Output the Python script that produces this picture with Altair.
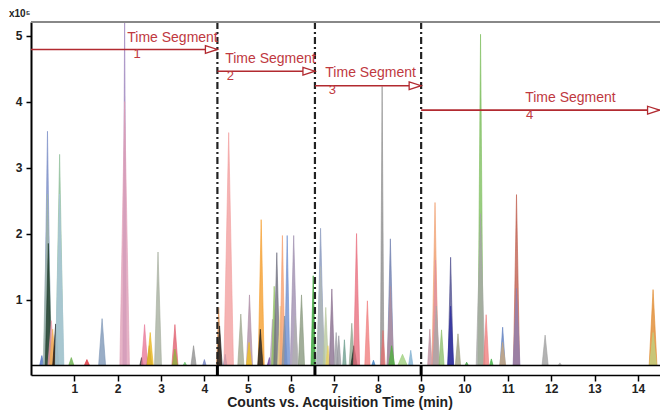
import altair as alt
import pandas as pd

# ---- data ----
peak_time = [0.25, 0.38, 0.38, 0.40, 0.47, 0.50, 0.57, 0.66, 0.66, 0.93, 1.29, 1.64, 2.16, 2.16, 2.55,
             2.62, 2.73, 2.75, 2.93, 3.32, 3.32, 3.55, 3.75, 4.00,
             4.33, 4.35, 4.48, 4.56, 4.84, 5.04, 5.03, 5.31, 5.29, 5.50, 5.57, 5.61, 5.67, 5.75, 5.80,
             5.85, 5.91, 6.06, 6.10, 6.24, 6.51,
             6.68, 6.68, 6.80, 6.85, 6.94, 7.04, 7.10, 7.23, 7.40, 7.45, 7.51, 7.76, 7.90, 8.10, 8.12,
             8.29, 8.29, 8.32, 8.57, 8.76,
             9.20, 9.32, 9.33, 9.35, 9.47, 9.68, 9.68, 9.85, 10.05, 10.37, 10.37, 10.50, 10.62, 10.88,
             10.88, 11.20, 11.20, 11.86, 12.20, 14.35, 14.35]
peak_height = [0.15, 3.55, 2.60, 1.85, 0.68, 0.55, 0.63, 3.20, 2.60, 0.12, 0.09, 0.71, 5.30, 4.00, 0.12,
               0.62, 0.30, 0.50, 1.72, 0.62, 0.25, 0.05, 0.30, 0.09,
               0.88, 0.60, 0.17, 3.53, 0.78, 1.07, 0.35, 2.21, 0.55, 0.12, 0.70, 1.20, 1.71, 0.90, 1.97,
               0.75, 1.97, 1.97, 0.75, 1.07, 1.36,
               2.08, 1.50, 0.88, 0.30, 1.16, 0.50, 0.45, 0.39, 0.64, 0.30, 2.00, 0.98, 0.08, 4.23, 0.53,
               1.92, 1.20, 0.30, 0.17, 0.23,
               0.55, 2.47, 1.60, 0.90, 0.54, 1.64, 0.90, 0.48, 0.05, 5.02, 2.30, 0.77, 0.10, 0.58,
               0.35, 2.59, 1.17, 0.46, 0.04, 1.15, 0.50]
peak_width = [0.05, 0.08, 0.10, 0.07, 0.08, 0.07, 0.07, 0.09, 0.10, 0.06, 0.06, 0.08, 0.04, 0.11, 0.04,
              0.07, 0.06, 0.07, 0.08, 0.07, 0.06, 0.04, 0.06, 0.04,
              0.05, 0.06, 0.04, 0.11, 0.07, 0.07, 0.06, 0.07, 0.06, 0.05, 0.06, 0.06, 0.07, 0.06, 0.06,
              0.06, 0.06, 0.08, 0.07, 0.07, 0.05,
              0.08, 0.10, 0.06, 0.05, 0.06, 0.05, 0.05, 0.04, 0.06, 0.07, 0.07, 0.06, 0.04, 0.04, 0.05,
              0.07, 0.08, 0.07, 0.11, 0.05,
              0.05, 0.07, 0.07, 0.08, 0.06, 0.06, 0.07, 0.06, 0.04, 0.06, 0.10, 0.06, 0.04, 0.06,
              0.07, 0.07, 0.08, 0.07, 0.04, 0.09, 0.08]
peak_color = ["#4d6fc4", "#7d8fc8", "#9fb5a8", "#1f3d2a", "#f0a0b0", "#f0b050", "#151515", "#8fbf9a",
              "#a9c6d8", "#6ab04c", "#e0303a", "#8098b8", "#a088c0", "#e0a0b8", "#333333",
              "#e87a9a", "#9a8a50", "#e8b820", "#a8b0a0", "#e06070", "#90b040", "#60c060", "#909090",
              "#7080c0",
              "#e09050", "#1a1a1a", "#3070c0", "#f2a0a0", "#a0a890", "#b090a8", "#f0c020", "#f5a030",
              "#202020", "#6a3da0", "#b8a0c0", "#90c060", "#707080", "#f0d890", "#f5a070",
              "#8090a0", "#7090d0", "#a090b0", "#b0b0b0", "#8a9a80", "#30a030",
              "#8a9ac0", "#b0b8b8", "#b8c8a0", "#e8d060", "#8a7090", "#a0a0a8", "#9898a0", "#70a090",
              "#90a890", "#1a2a20", "#e87080", "#f08080", "#4080c0", "#909090", "#e07070",
              "#7080b0", "#b090a0", "#50b040", "#a0d080", "#80b0d0",
              "#c090a0", "#f0a070", "#e090a0", "#a8a8a8", "#90c070", "#505090", "#3030a0", "#a0a080",
              "#40a040", "#80c060", "#a8a8a8", "#f08080", "#40b040", "#6080c0",
              "#c8a880", "#c06050", "#9080b0", "#a0a0a0", "#b0b0b0", "#e08a30", "#c0d080"]

segment_bounds = [4.30, 6.55, 9.00]
arrow_start = [0.0, 4.30, 6.55, 9.00]
arrow_end = [4.30, 6.55, 9.00, 14.50]
arrow_level = [4.79, 4.46, 4.24, 3.87]
segment_label = ["Time Segment"] * 4
segment_number = ["1", "2", "3", "4"]
label_x = [2.22, 4.48, 6.79, 11.40]
label_y = [4.96, 4.65, 4.43, 4.05]
number_x = [2.45, 4.60, 6.95, 11.50]
number_y = [4.72, 4.39, 4.17, 3.79]

x_ticks = list(range(1, 15))
y_ticks = [1, 2, 3, 4, 5]
X_DOM = [0.0, 14.51]
Y_DOM = [-0.144, 5.206]

FONT = "Liberation Sans, Arial, sans-serif"
RED = "#c0393f"

# build peak table (triangle vertices per peak)
rows = []
for i, (t, h, w, c) in enumerate(zip(peak_time, peak_height, peak_width, peak_color)):
    pid = f"p{i:03d}"
    for tt, yy in ((t - w, 0.0), (t, h), (t + w, 0.0)):
        rows.append({"pid": pid, "t": tt, "y": yy, "c": c})
peaks_df = pd.DataFrame(rows)

xs = alt.Scale(domain=X_DOM, nice=False, zero=False)
ys = alt.Scale(domain=Y_DOM, nice=False, zero=False)

x_axis = alt.Axis(values=x_ticks, format="d", title=None, grid=False, domainColor="black",
                  domainWidth=1.5, tickColor="black", tickSize=6, tickWidth=1.5,
                  labelFont=FONT, labelFontSize=12, labelFontWeight="bold", labelColor="#222",
                  labelPadding=2)
y_axis = alt.Axis(values=y_ticks, format="d", title=None, grid=False, domainColor="black",
                  domainWidth=2, tickColor="black", tickSize=5, tickWidth=1.5,
                  labelFont=FONT, labelFontSize=12, labelFontWeight="bold", labelColor="#222",
                  labelPadding=4)

peaks = alt.Chart(peaks_df).mark_area(clip=True, fillOpacity=0.8, strokeWidth=0.7, strokeOpacity=0.9).encode(
    x=alt.X("t:Q", scale=xs, axis=x_axis),
    y=alt.Y("y:Q", scale=ys, axis=y_axis, stack=None),
    detail="pid:N",
    color=alt.Color("c:N", scale=None),
    stroke=alt.Stroke("c:N", scale=None),
)

seg_df = pd.DataFrame({"t": segment_bounds, "ytop": [Y_DOM[1]] * 3, "ybot": [0.0] * 3,
                       "ystrip": [Y_DOM[0]] * 3})
seg_lines = alt.Chart(seg_df).mark_rule(color="#222", strokeWidth=2.2, strokeDash=[7, 3, 2, 3]).encode(
    x=alt.X("t:Q", scale=xs), y=alt.Y("ytop:Q", scale=ys), y2="ybot:Q")
seg_ticks = alt.Chart(seg_df).mark_rule(color="black", strokeWidth=3).encode(
    x=alt.X("t:Q", scale=xs), y=alt.Y("ystrip:Q", scale=ys), y2="ybot:Q")

base_df = pd.DataFrame({"y": [0.0]})
baseline = alt.Chart(base_df).mark_rule(color="black", strokeWidth=1.6).encode(
    y=alt.Y("y:Q", scale=ys))
top_line = alt.Chart(base_df).mark_rule(color="#888", strokeWidth=2).encode(
    y=alt.value(0))

arr_df = pd.DataFrame({"x0": arrow_start, "x1": arrow_end, "y": arrow_level})
arrows = alt.Chart(arr_df).mark_rule(color="#b22a30", strokeWidth=1.6).encode(
    x=alt.X("x0:Q", scale=xs), x2="x1:Q", y=alt.Y("y:Q", scale=ys))
heads = alt.Chart(arr_df).mark_point(shape="M-2,-0.65L0,0L-2,0.65Z", size=144, filled=True,
                                     fill="white", stroke="#b22a30", strokeWidth=1.3,
                                     opacity=1).encode(
    x=alt.X("x1:Q", scale=xs), y=alt.Y("y:Q", scale=ys))

lab_df = pd.DataFrame({"x": label_x, "y": label_y, "s": segment_label})
labels = alt.Chart(lab_df).mark_text(align="left", baseline="middle", font=FONT, fontSize=14,
                                     color=RED).encode(
    x=alt.X("x:Q", scale=xs), y=alt.Y("y:Q", scale=ys), text="s:N")
num_df = pd.DataFrame({"x": number_x, "y": number_y, "s": segment_number})
numbers = alt.Chart(num_df).mark_text(align="center", baseline="middle", font=FONT, fontSize=13,
                                      color=RED).encode(
    x=alt.X("x:Q", scale=xs), y=alt.Y("y:Q", scale=ys), text="s:N")

title_df = pd.DataFrame({"s": ["Counts vs. Acquisition Time (min)"]})
title = alt.Chart(title_df).mark_text(align="center", baseline="middle", font=FONT, fontSize=14,
                                      fontWeight="bold", color="#222").encode(
    x=alt.value(309), y=alt.value(381), text="s:N")
exp_df = pd.DataFrame({"s": ["x10⁵"]})
exponent = alt.Chart(exp_df).mark_text(align="left", baseline="middle", font=FONT, fontSize=10,
                                       fontWeight="bold", color="#222").encode(
    x=alt.value(-22), y=alt.value(-8), text="s:N")

chart = alt.layer(peaks, seg_ticks, baseline, seg_lines, top_line, arrows, heads, labels, numbers,
                  title, exponent).properties(
    width=629, height=353,
    autosize="none",
    padding={"left": 23, "top": 14, "right": 0, "bottom": 39},
).configure_view(stroke=None)

chart.save("out.html", embed_options={"renderer": "svg", "actions": False})
